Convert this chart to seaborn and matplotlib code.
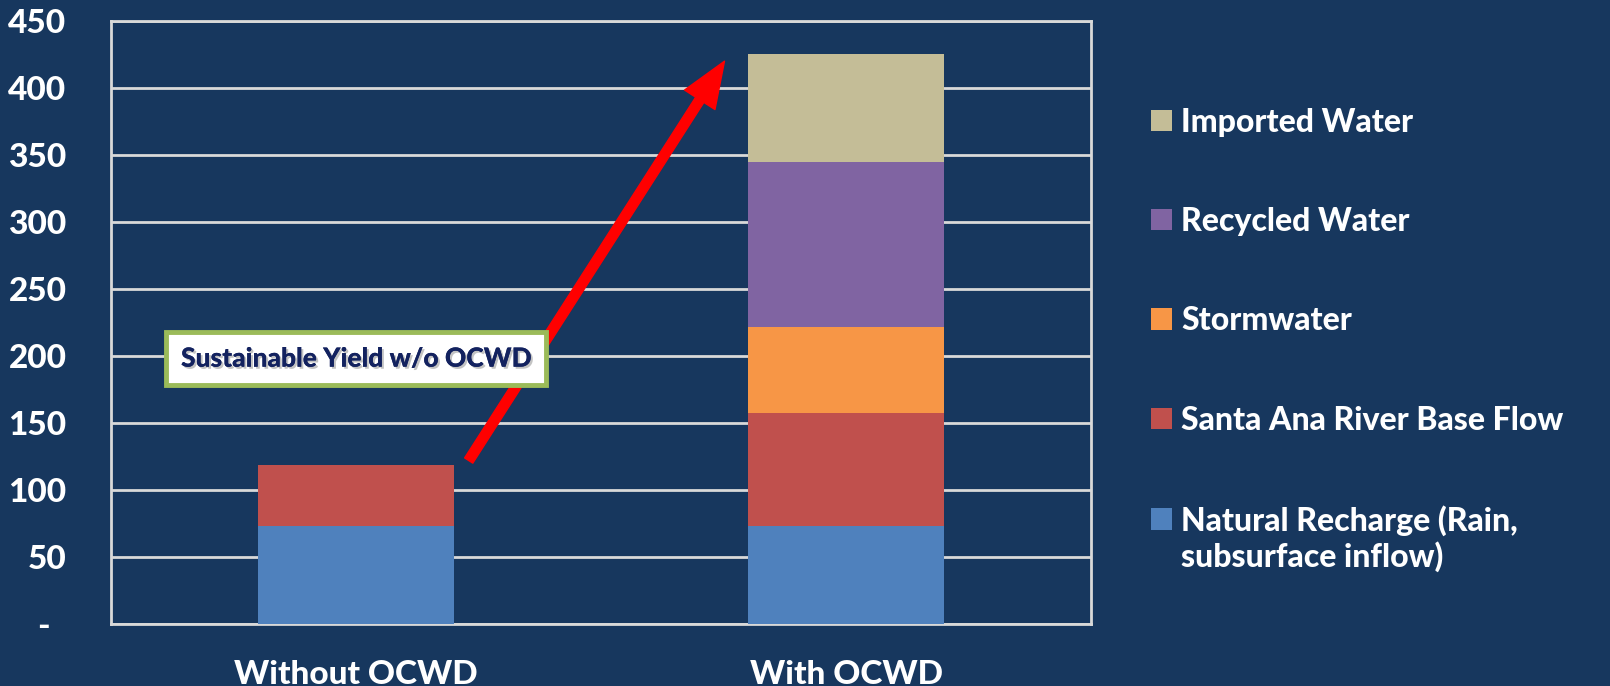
import numpy as np
import pandas as pd
import seaborn as sns
import matplotlib.pyplot as plt
from matplotlib.patches import Patch
import matplotlib.patheffects as pe

# data (thousand acre-feet per year)
scenarios = ["Without OCWD", "With OCWD"]
natural_recharge = [73, 73]
santa_ana_base = [45.5, 84.5]
stormwater = [0, 64.5]
recycled = [0, 123]
imported = [0, 80.5]

sources = ["Natural Recharge (Rain,\nsubsurface inflow)", "Santa Ana River Base Flow",
           "Stormwater", "Recycled Water", "Imported Water"]
colors = ["#4F81BD", "#C0504D", "#F79646", "#8064A2", "#C4BD97"]
y_ticks = [0, 50, 100, 150, 200, 250, 300, 350, 400, 450]
y_tick_labels = ["-  ", "50", "100", "150", "200", "250", "300", "350", "400", "450"]
note_text = "Sustainable Yield w/o OCWD"
note_pos = (0.0, 198)
arrow_tail = (0.23, 122)
arrow_tip = (0.752, 420)

bg = "#17375E"
grid_c = "#D9D9D9"

df = pd.DataFrame({"scenario": scenarios, sources[0]: natural_recharge, sources[1]: santa_ana_base,
                   sources[2]: stormwater, sources[3]: recycled, sources[4]: imported})
cum = df[sources].cumsum(axis=1)

sns.set_style("white")
plt.rcParams["font.family"] = ["Lato", "DejaVu Sans"]
plt.rcParams["font.weight"] = 900

fig = plt.figure(figsize=(16.1, 6.86), dpi=100, facecolor=bg)
ax = fig.add_axes([111 / 1610, 1 - 624 / 686, 980 / 1610, 603 / 686])
ax.set_facecolor(bg)

# stacked bars: draw cumulative totals from the top layer down
for src, col in zip(sources[::-1], colors[::-1]):
    sns.barplot(x=df["scenario"], y=cum[src], color=col, width=0.4, saturation=1,
                edgecolor="none", linewidth=0, ax=ax, zorder=3)

ax.set_xlim(-0.5, 1.5)
ax.set_ylim(0, 450)
ax.set_yticks(y_ticks)
ax.set_yticklabels(y_tick_labels)
ax.yaxis.grid(True, color=grid_c, linewidth=2, zorder=0)
ax.set_axisbelow(True)
for s in ax.spines.values():
    s.set_color(grid_c)
    s.set_linewidth(2)
ax.tick_params(axis="y", length=0, pad=32, labelsize=24, labelcolor="white")
ax.tick_params(axis="x", length=0, pad=26, labelsize=24, labelcolor="white")
ax.set_xlabel("")
ax.set_ylabel("")

# annotation box and arrow
ax.annotate("", xy=arrow_tip, xytext=arrow_tail,
            arrowprops=dict(facecolor="#FF0000", edgecolor="#FF0000", width=7,
                            headwidth=26, headlength=33, shrink=0), zorder=5)
ax.text(note_pos[0], note_pos[1], note_text, ha="center", va="center", fontsize=19,
        color="#13225F", zorder=6,
        path_effects=[pe.withSimplePatchShadow(offset=(1.5, -1.5), shadow_rgbFace="#888888", alpha=0.5),
                      pe.Normal()],
        bbox=dict(boxstyle="square,pad=0.55", facecolor="white", edgecolor="#9BBB59", linewidth=3.5))

handles = [Patch(facecolor=c, edgecolor="none") for c in colors[::-1]]
leg = fig.legend(handles, sources[::-1], loc="upper left", bbox_to_anchor=(1122 / 1610, 1 - 79 / 686),
                 frameon=False, fontsize=23, labelcolor="white", handlelength=0.65, handleheight=0.65,
                 handletextpad=0.3, labelspacing=2.2)
# put the square of the two-line entry beside its first line
last = leg.legend_handles[-1]
last.set_y(last.get_y() + 14.5)

fig.savefig("out.png", dpi=100, facecolor=bg)
